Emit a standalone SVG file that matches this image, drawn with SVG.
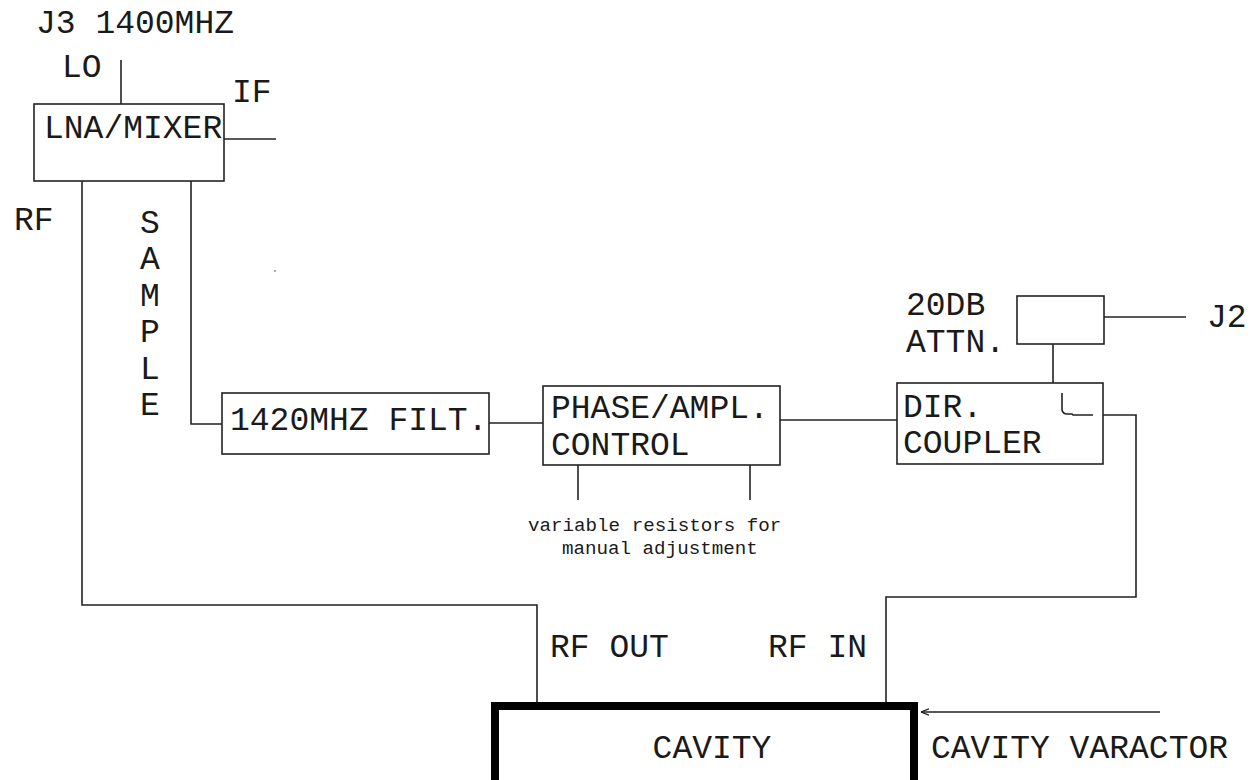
<svg xmlns="http://www.w3.org/2000/svg" width="1254" height="780" viewBox="0 0 1254 780">
<style>
.t{font-family:"Liberation Mono","Courier New",monospace;font-size:33px;fill:#1a1a1a}
.s{font-family:"Liberation Mono","Courier New",monospace;font-size:19.2px;fill:#1a1a1a}
.b{fill:#fff;stroke:#222;stroke-width:1.6}
.w{fill:none;stroke:#222;stroke-width:1.6}
</style>
<defs>
<marker id="ah" viewBox="0 0 10 10" refX="10" refY="5" markerWidth="8" markerHeight="8" orient="auto" markerUnits="userSpaceOnUse">
<path d="M0,1 L10,5 L0,9" fill="none" stroke="#222" stroke-width="1.5"/>
</marker>
</defs>
<rect width="1254" height="780" fill="#fff"/>
<g id="connectors" class="w">
<path d="M121,60 V104"/>
<path d="M224,139 H276"/>
<path d="M82,181 V605 H537 V702"/>
<path d="M191,181 V424 H222"/>
<path d="M489,423 H543"/>
<path d="M578,465 V500"/>
<path d="M750,465 V500"/>
<path d="M780,420 H897"/>
<path d="M1053,344 V383"/>
<path d="M1104,317 H1186"/>
<path d="M1103,415 H1136 V597 H886 V702"/>
<path d="M1160,712 H921" marker-end="url(#ah)"/>
</g>
<g id="labels">
<text class="t" x="36" y="33">J3 1400MHZ</text>
<text class="t" x="62" y="77">LO</text>
<text class="t" x="232" y="102">IF</text>
<text class="t" x="14" y="230">RF</text>
<text class="t" x="150" y="233" text-anchor="middle">S</text>
<text class="t" x="150" y="269.4" text-anchor="middle">A</text>
<text class="t" x="150" y="305.8" text-anchor="middle">M</text>
<text class="t" x="150" y="342.2" text-anchor="middle">P</text>
<text class="t" x="150" y="378.6" text-anchor="middle">L</text>
<text class="t" x="150" y="415" text-anchor="middle">E</text>
<text class="s" x="528" y="531">variable resistors for</text>
<text class="s" x="562" y="554">manual adjustment</text>
<text class="t" x="906" y="315">20DB</text>
<text class="t" x="906" y="352">ATTN.</text>
<text class="t" x="1207" y="327">J2</text>
<text class="t" x="550" y="657">RF OUT</text>
<text class="t" x="768" y="657">RF IN</text>
<text class="t" x="931" y="758">CAVITY VARACTOR</text>
<circle cx="275" cy="271" r="0.8" fill="#444"/>
</g>
<g id="lna-mixer">
<rect class="b" x="34" y="104" width="190" height="77"/>
<text class="t" x="44" y="138">LNA/MIXER</text>
</g>
<g id="filter">
<rect class="b" x="222" y="393" width="267" height="61"/>
<text class="t" x="230" y="430">1420MHZ FILT.</text>
</g>
<g id="phase-ampl">
<rect class="b" x="543" y="386" width="237" height="79"/>
<text class="t" x="551" y="418">PHASE/AMPL.</text>
<text class="t" x="551" y="455">CONTROL</text>
</g>
<g id="attn">
<rect class="b" x="1017" y="296" width="87" height="48"/>
</g>
<g id="coupler">
<rect class="b" x="897" y="383" width="206" height="81"/>
<text class="t" x="903" y="417">DIR.</text>
<text class="t" x="903" y="453">COUPLER</text>
<path class="w" d="M1062,393 V410 Q1063,414 1067,414 H1072 L1073,415 H1093"/>
</g>
<g id="cavity">
<rect x="495" y="706" width="419" height="100" fill="#fff" stroke="#000" stroke-width="8"/>
<text class="t" x="712" y="758" text-anchor="middle">CAVITY</text>
</g>
</svg>
